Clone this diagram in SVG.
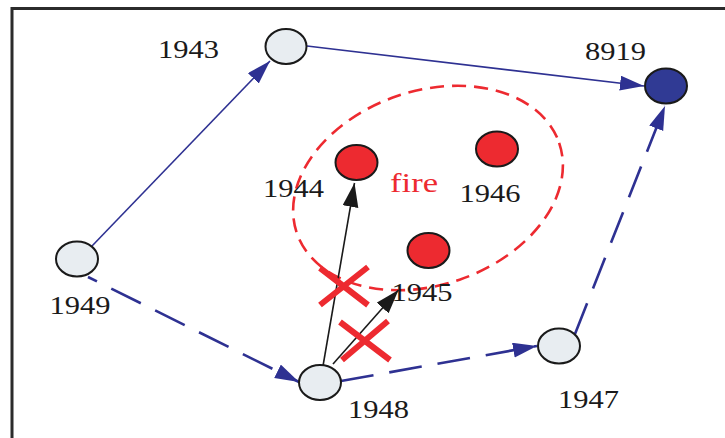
<svg xmlns="http://www.w3.org/2000/svg" width="725" height="438" viewBox="0 0 725 438">
<style>
.node{stroke:#1a1a1a;stroke-width:2}
.gray{fill:#e8edf1}
.red{fill:#ed2a30}
.dblue{fill:#303a94}
.lbl{font-family:"Liberation Serif","Times New Roman",serif;font-size:25px;fill:#1a1a1a}
.fire{font-family:"Liberation Serif","Times New Roman",serif;font-size:28px;fill:#ed2a30}
.solidb{stroke:#2e3192;stroke-width:1.6;fill:none}
.dashb{stroke:#2e3192;stroke-width:2.6;fill:none;stroke-dasharray:33 16}
.blk{stroke:#1a1a1a;stroke-width:1.6;fill:none}
.cross{stroke:#ed2a30;stroke-width:6;fill:none}
</style>
<defs>
<marker id="ab" markerUnits="userSpaceOnUse" markerWidth="26" markerHeight="17" refX="24" refY="7.5" orient="auto">
<path d="M0,0 L24,7.5 L0,15 z" fill="#2e3192"/>
</marker>
<marker id="ak" markerUnits="userSpaceOnUse" markerWidth="26" markerHeight="18" refX="24" refY="8" orient="auto">
<path d="M0,0 L24,8 L0,16 z" fill="#1a1a1a"/>
</marker>
</defs>
<rect width="725" height="438" fill="#ffffff"/>
<g id="frame" stroke="#2b2b2b" stroke-width="3" fill="none">
<path d="M12,438 L12,8.5 L725,8.5"/>
</g>
<g id="fire-zone">
<ellipse cx="428" cy="188" rx="138.7" ry="97" transform="rotate(-19 428 188)" fill="none" stroke="#ed2a30" stroke-width="2.6" stroke-dasharray="14 8"/>
<text class="fire" x="390" y="191.5" textLength="48" lengthAdjust="spacingAndGlyphs">fire</text>
</g>
<g id="connectors">
<path class="solidb" d="M92,246 L270,61" marker-end="url(#ab)"/>
<path class="solidb" d="M307,46 L644,86" marker-end="url(#ab)"/>
<path class="dashb" d="M88,277 L299,382" stroke-dashoffset="23" marker-end="url(#ab)"/>
<path class="dashb" d="M341,381 L537,346" marker-end="url(#ab)"/>
<path class="dashb" d="M575,334 L665,106" marker-end="url(#ab)"/>
<path class="blk" d="M323,366 L354.5,183" marker-end="url(#ak)"/>
<path class="blk" d="M333,364 L398.5,290" marker-end="url(#ak)"/>
</g>
<g id="blocked">
<path class="cross" d="M320,268 L368,305 M368,267 L320,305"/>
<path class="cross" d="M340,322 L390,360 M388,321 L342,360"/>
</g>
<g id="n1943"><ellipse class="node gray" cx="286" cy="46.5" rx="20.5" ry="17.5"/><text class="lbl" x="158" y="58" textLength="61" lengthAdjust="spacingAndGlyphs">1943</text></g>
<g id="n8919"><ellipse class="node dblue" cx="666" cy="86" rx="21" ry="17.5"/><text class="lbl" x="585" y="60" textLength="61" lengthAdjust="spacingAndGlyphs">8919</text></g>
<g id="n1944"><ellipse class="node red" cx="356.5" cy="162.5" rx="21" ry="17.5"/><text class="lbl" x="263" y="197" textLength="61" lengthAdjust="spacingAndGlyphs">1944</text></g>
<g id="n1946"><ellipse class="node red" cx="497" cy="149" rx="21" ry="17.5"/><text class="lbl" x="459.5" y="202" textLength="61" lengthAdjust="spacingAndGlyphs">1946</text></g>
<g id="n1945"><ellipse class="node red" cx="428.5" cy="250.5" rx="21" ry="17.5"/><text class="lbl" x="391.5" y="301" textLength="61" lengthAdjust="spacingAndGlyphs">1945</text></g>
<g id="n1949"><ellipse class="node gray" cx="77" cy="259" rx="21" ry="17.5"/><text class="lbl" x="49.5" y="314" textLength="61" lengthAdjust="spacingAndGlyphs">1949</text></g>
<g id="n1948"><ellipse class="node gray" cx="320" cy="382.5" rx="21" ry="17.5"/><text class="lbl" x="348" y="418" textLength="61" lengthAdjust="spacingAndGlyphs">1948</text></g>
<g id="n1947"><ellipse class="node gray" cx="559" cy="346" rx="21" ry="17.5"/><text class="lbl" x="558" y="407.5" textLength="61" lengthAdjust="spacingAndGlyphs">1947</text></g>
</svg>
